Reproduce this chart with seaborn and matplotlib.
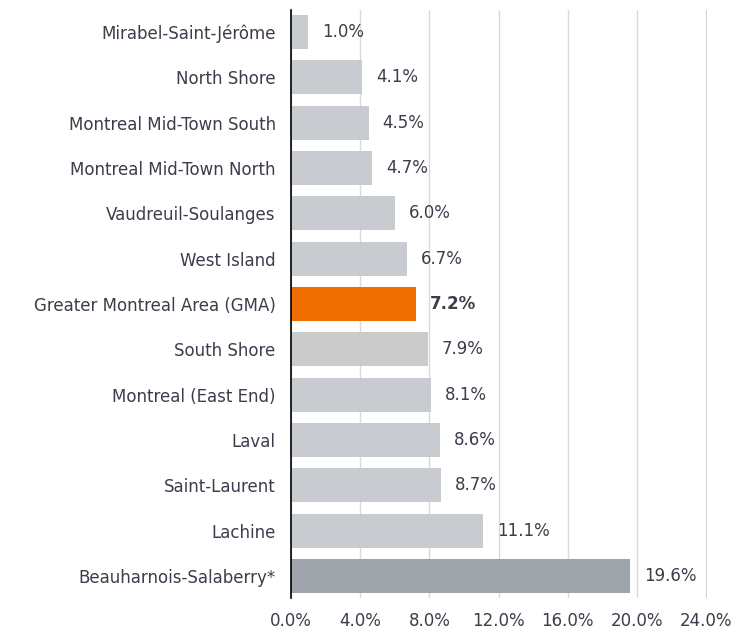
import matplotlib
matplotlib.use("Agg")
import matplotlib.pyplot as plt
import seaborn as sns
import pandas as pd

categories = ["Mirabel-Saint-Jérôme", "North Shore", "Montreal Mid-Town South",
              "Montreal Mid-Town North", "Vaudreuil-Soulanges", "West Island",
              "Greater Montreal Area (GMA)", "South Shore", "Montreal (East End)",
              "Laval", "Saint-Laurent", "Lachine", "Beauharnois-Salaberry*"]
values = [1.0, 4.1, 4.5, 4.7, 6.0, 6.7, 7.2, 7.9, 8.1, 8.6, 8.7, 11.1, 19.6]
bar_colors = ["#c8cbcf"] * 6 + ["#f06e00", "#cbcbcb"] + ["#c8cbcf"] * 4 + ["#9ea4aa"]
xticks = [0, 4, 8, 12, 16, 20, 24]

sns.set_theme(style="white")
plt.rcParams['font.family'] = ['DejaVu Sans']
text_color = "#3b3d4a"
fs = 12

df = pd.DataFrame({"cat": categories, "val": values})
fig = plt.figure(figsize=(7.33, 6.31), dpi=100)
ax = fig.add_axes([291/733, 1-598/631, (707-291)/733, (598-10)/631])

sns.barplot(data=df, x="val", y="cat", hue="cat", palette=bar_colors,
            legend=False, width=0.75, ax=ax, orient="h", saturation=1,
            edgecolor="none")

ax.set_xlim(0, 24.05)
ax.set_ylim(12.48, -0.48)
ax.set_xticks(xticks)
ax.set_xticklabels([f"{t:.1f}%" for t in xticks], fontsize=fs, color=text_color)
ax.tick_params(axis="y", labelsize=fs, labelcolor=text_color, length=0, pad=11)
ax.tick_params(axis="x", length=0, pad=10)
ax.set_xlabel("")
ax.set_ylabel("")
ax.grid(axis="x", color="#d9d9d9", linewidth=1)
ax.set_axisbelow(True)
for s in ["top", "right", "bottom"]:
    ax.spines[s].set_visible(False)
ax.spines["left"].set_color("black")
ax.spines["left"].set_linewidth(1.2)
ax.spines["left"].set_zorder(5)

for i, v in enumerate(values):
    ax.text(v + 0.8, i, f"{v:.1f}%", va="center", ha="left", fontsize=fs,
            color=text_color, fontweight="bold" if i == 6 else "normal")

fig.savefig("out.png", dpi=100)
